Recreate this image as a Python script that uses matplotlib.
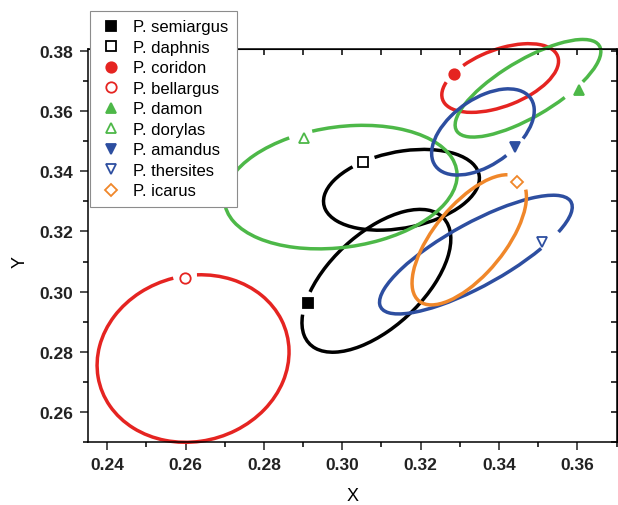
import numpy as np
import matplotlib
matplotlib.use('Agg')
import matplotlib.pyplot as plt
from matplotlib.patches import Arc
from matplotlib.transforms import Affine2D
from matplotlib.ticker import MultipleLocator, FormatStrFormatter

plt.rcParams['font.family'] = ['Liberation Sans', 'DejaVu Sans']

species = ['P. semiargus', 'P. daphnis', 'P. coridon', 'P. bellargus', 'P. damon',
           'P. dorylas', 'P. amandus', 'P. thersites', 'P. icarus']
colors = ['#000000', '#000000', '#e52421', '#e52421', '#4db848',
          '#4db848', '#2d4ea0', '#2d4ea0', '#f0872a']
markers = ['s', 's', 'o', 'o', '^', '^', 'v', 'v', 'D']
filled = [True, False, True, False, True, False, True, False, False]

# symbol position on each loop
point_x = [0.2912, 0.3054, 0.3284, 0.2599, 0.3603, 0.2901, 0.3442, 0.3511, 0.3446]
point_y = [0.2963, 0.3430, 0.3723, 0.3046, 0.3670, 0.3509, 0.3479, 0.3166, 0.3365]

# loops: centre, half width, half height, y offset of the rightmost point
loop_cx = [0.3087, 0.3151, 0.3403, 0.2619, 0.3474, 0.2996, 0.3359, 0.3341, 0.3324]
loop_cy = [0.3036, 0.3338, 0.3709, 0.2778, 0.3675, 0.3347, 0.3530, 0.3123, 0.3172]
loop_hw = [0.0190, 0.0199, 0.0149, 0.0245, 0.0186, 0.0297, 0.0131, 0.0246, 0.0146]
loop_hh = [0.0237, 0.0134, 0.0114, 0.0278, 0.0162, 0.0205, 0.0143, 0.0197, 0.0216]
loop_tilt = [0.0139, 0.0038, 0.0056, 0.0022, 0.0122, 0.0039, 0.0071, 0.0158, 0.0143]

xlim = (0.235, 0.37)
ylim = (0.25, 0.3805)
gap_px = 12  # blank space left in the loop round each symbol

fig = plt.figure(figsize=(6.18, 5.06), dpi=100)
ax = fig.add_axes([0.1419, 0.1239, 0.8557, 0.7771])
ax.set_xlim(*xlim)
ax.set_ylim(*ylim)

# pixels per data unit
sx = ax.bbox.width / (xlim[1] - xlim[0])
sy = ax.bbox.height / (ylim[1] - ylim[0])

for i, name in enumerate(species):
    cx, cy = loop_cx[i], loop_cy[i]
    hw, hh, tilt = loop_hw[i], loop_hh[i], loop_tilt[i]
    vy = np.sqrt(hh**2 - tilt**2)
    px, py = point_x[i], point_y[i]
    # parameter angle of the symbol on the unit circle
    u = (px - cx) / hw
    w = ((py - cy) - tilt * u) / vy
    t = np.arctan2(w, u)
    speed = np.hypot(hw * np.sin(t) * sx, (-tilt * np.sin(t) + vy * np.cos(t)) * sy)
    dt = np.degrees(gap_px / speed)
    t0 = np.degrees(t)
    tr = Affine2D.from_values(hw, tilt, 0, vy, cx, cy) + ax.transData
    arc = Arc((0, 0), 2, 2, theta1=t0 + dt, theta2=t0 + 360 - dt,
              transform=tr, color=colors[i], lw=2.5, clip_on=False, zorder=2)
    ax.add_patch(arc)
    ax.plot(px, py, ls='none', marker=markers[i], ms=7.5 if markers[i] != 'D' else 6.5,
            mfc=colors[i] if filled[i] else 'white', mec=colors[i], mew=1.3,
            label=name, zorder=3, clip_on=False)

ax.xaxis.set_major_locator(MultipleLocator(0.02))
ax.xaxis.set_minor_locator(MultipleLocator(0.01))
ax.yaxis.set_major_locator(MultipleLocator(0.02))
ax.yaxis.set_minor_locator(MultipleLocator(0.01))
ax.xaxis.set_major_formatter(FormatStrFormatter('%.2f'))
ax.yaxis.set_major_formatter(FormatStrFormatter('%.2f'))
ax.tick_params(which='major', direction='out', length=6, width=1.1, pad=4.5,
               labelsize=12.5, colors='#222222')
ax.tick_params(which='minor', direction='out', length=3.6, width=1.1)
for lbl in ax.get_xticklabels() + ax.get_yticklabels():
    lbl.set_fontweight('bold')
for s in ax.spines.values():
    s.set_linewidth(1.1)

top = ax.secondary_xaxis('top')
top.xaxis.set_major_locator(MultipleLocator(0.01))
top.tick_params(direction='in', length=4.5, width=1.1, labeltop=False)
right = ax.secondary_yaxis('right')
right.yaxis.set_major_locator(MultipleLocator(0.01))
right.tick_params(direction='in', length=4.5, width=1.1, labelright=False)

ax.set_xlabel('X', fontsize=13)
ax.set_ylabel('Y', fontsize=13)
ax.xaxis.set_label_coords(0.5, -0.114)
ax.yaxis.set_label_coords(-0.111, 0.46)

leg = ax.legend(loc='upper left', bbox_to_anchor=(90 / 618, 1 - 12 / 506),
                bbox_transform=fig.transFigure, fontsize=12, fancybox=False,
                edgecolor='#8c8c8c', framealpha=1, borderaxespad=0,
                handlelength=1.5, handletextpad=0.6, labelspacing=0.33, borderpad=0.5)
leg.get_frame().set_linewidth(0.8)

fig.savefig('out.png', dpi=100)
